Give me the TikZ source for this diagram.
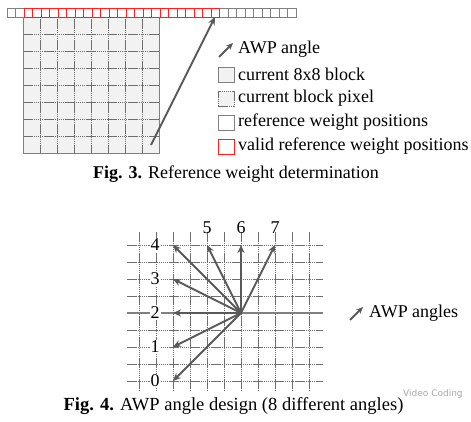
\documentclass[tikz,border=0pt]{standalone}
\usepackage{fontspec}
\setmainfont{Liberation Serif}
\setsansfont{DejaVu Sans}
\usetikzlibrary{arrows.meta}
\definecolor{cellfill}{HTML}{F2F2F2}
\definecolor{linegray}{HTML}{6E6E6E}
\definecolor{boxgray}{HTML}{808080}
\definecolor{arrowgray}{HTML}{595959}
\definecolor{refred}{HTML}{FF2020}
\tikzset{
  awparrow/.style={draw=arrowgray, line width=1.8pt, -{Stealth[length=8pt,width=7pt]}},
  legicon/.style={draw=arrowgray, line width=1.8pt, -{Stealth[length=7pt,width=6pt]}},
  txt/.style={font=\fontsize{18}{20}\selectfont, inner sep=0pt, anchor=west},
  numlbl/.style={font=\fontsize{18}{20}\selectfont, inner sep=1pt, fill=white},
  gridline/.style={draw=linegray, line width=0.9pt, dash pattern=on 1.5pt off 0.6pt},
  refcell/.style={draw=boxgray, line width=0.8pt, fill=white},
  validcell/.style={draw=refred, line width=0.8pt, fill=white},
}
\begin{document}
\begin{tikzpicture}[x=1pt,y=-1pt]
\useasboundingbox (0,0) rectangle (471,422);
% ---------- Fig. 3 ----------
% 8x8 block
\fill[cellfill] (23,17) rectangle (159,153);
\foreach \i in {1,...,7}{
  \draw[gridline] ({23+17*\i},17) -- ({23+17*\i},153);
  \draw[gridline] (23,{17+17*\i}) -- (159,{17+17*\i});
}
\draw[draw=boxgray, line width=0.9pt] (23,17) rectangle (159,153);
% reference strip: 34 cells, 2 gray, 23 red, 9 gray
\foreach \k in {0,1}{
  \draw[refcell] ({7+8.5*\k},8.5) rectangle ({15.5+8.5*\k},17);
}
\foreach \k in {25,...,33}{
  \draw[refcell] ({7+8.5*\k},8.5) rectangle ({15.5+8.5*\k},17);
}
\foreach \k in {2,...,24}{
  \draw[validcell] ({7+8.5*\k},8.5) rectangle ({15.5+8.5*\k},17);
}
\coordinate (a3s) at (151,145);
\coordinate (a3e) at (215,17);
\draw[awparrow] (a3s) -- (a3e);
% legend
\coordinate (li1) at (219,57);
\coordinate (li2) at (233,43);
\draw[legicon] (li1) -- (li2);
\node[txt] (l0) at (238,49) {AWP angle};
\node[draw=boxgray, line width=0.8pt, fill=cellfill, minimum width=16pt, minimum height=15pt, inner sep=0pt] (b1) at (226,74.5) {};
\node[txt] (l1) at (238,74) {current 8x8 block};
\node[draw=linegray, line width=0.8pt, dash pattern=on 1.5pt off 0.6pt, fill=cellfill, minimum width=16pt, minimum height=15pt, inner sep=0pt] (b2) at (226,98.5) {};
\node[txt] (l2) at (238,98) {current block pixel};
\node[draw=boxgray, line width=0.8pt, fill=white, minimum width=16pt, minimum height=15pt, inner sep=0pt] (b3) at (226,122.5) {};
\node[txt] (l3) at (238,122) {reference weight positions};
\node[draw=refred, line width=0.8pt, fill=white, minimum width=16pt, minimum height=15pt, inner sep=0pt] (b4) at (226,146.5) {};
\node[txt] (l4) at (238,146) {valid reference weight positions};
\node[font=\fontsize{18}{20}\selectfont, inner sep=0pt] (cap3) at (236,174) {\textbf{Fig. 3.} Reference weight determination};
% ---------- Fig. 4 ----------
\foreach \k in {0,...,10}{
  \draw[gridline] ({139+17*\k},232) -- ({139+17*\k},390);
}
\foreach \j in {0,1,2,3,5,6,7,8}{
  \draw[gridline] (127,{245+17*\j}) -- (323,{245+17*\j});
}
\draw[draw=boxgray, line width=1.1pt] (127,313) -- (323,313);
\node[numlbl] (n4) at (155,245) {4};
\node[numlbl] (n3) at (155,279) {3};
\node[numlbl] (n2) at (155,313) {2};
\node[numlbl] (n1) at (155,347) {1};
\node[numlbl] (n0) at (155,381) {0};
\node[numlbl, fill=none] (n5) at (207,228) {5};
\node[numlbl, fill=none] (n6) at (241,228) {6};
\node[numlbl, fill=none] (n7) at (275,228) {7};
\coordinate (c) at (241,313);
\coordinate (e0) at (173,381);
\coordinate (e1) at (173,347);
\coordinate (e2) at (173,313);
\coordinate (e3) at (173,279);
\coordinate (e4) at (173,245);
\coordinate (e5) at (207,245);
\coordinate (e6) at (241,245);
\coordinate (e7) at (275,245);
\foreach \e in {e0,e1,e2,e3,e4,e5,e6,e7}{
  \draw[awparrow] (c) -- (\e);
}
\coordinate (lj1) at (350,320);
\coordinate (lj2) at (363,307);
\draw[legicon] (lj1) -- (lj2);
\node[txt] (l5) at (369,313) {AWP angles};
\node[font=\fontsize{18.5}{21}\selectfont, inner sep=0pt] (cap4) at (233.5,406) {\textbf{Fig. 4.} AWP angle design (8 different angles)};
\node[font=\sffamily\fontsize{9}{10}\selectfont, text=gray!70, inner sep=0pt, anchor=south west] (wm) at (403,399) {Video Coding};
\end{tikzpicture}
\end{document}
